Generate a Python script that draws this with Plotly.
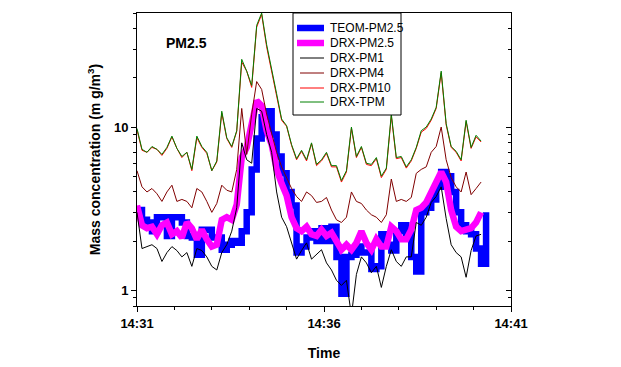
import math
from datetime import datetime, timedelta
import plotly.graph_objects as go

# ---- data ----
start_time = datetime(2000, 1, 1, 14, 31, 0)
step_seconds = 8
series_names = ["TEOM-PM2.5", "DRX-PM2.5", "DRX-PM1", "DRX-PM4", "DRX-PM10", "DRX-TPM"]

teom_pm25 = [3.1, 2.7, 2.6, 2.3, 2.8, 2.8, 2.15, 2.8, 2.8, 2.6,
             2.15, 2.1, 1.65, 2.35, 2.35, 2.1, 2.1, 1.77, 1.9, 2.0,
             1.95, 2.3, 3.0, 5.5, 8.5, 11.5, 12.5, 9.0, 6.6, 5.2,
             4.0, 3.3, 1.7, 1.85, 2.1, 2.3, 2.0, 2.4, 2.0, 2.45,
             1.6, 0.95, 1.6, 1.65, 1.85, 1.7, 1.7, 1.35, 1.4, 2.2,
             1.9, 1.75, 2.3, 2.5, 2.2, 1.6, 1.3, 3.0, 3.2, 3.6,
             4.3, 5.3, 5.0, 4.0, 3.0, 2.5, 2.3, 2.2, 1.8, 1.45, 3.0]

drx_pm25 = [3.3, 2.5, 2.4, 2.45, 2.2, 2.5, 2.6, 2.2, 2.3, 2.1,
            2.6, 2.4, 2.05, 2.35, 2.05, 1.85, 1.9, 2.7, 2.8, 2.7,
            3.35, 6.5, 7.5, 11, 14.5, 13.5, 9.5, 7.8, 5.5, 4.5,
            3.8, 2.8, 2.4, 2.3, 2.45, 2.2, 2.15, 2.35, 2.15, 2.25,
            1.95, 1.77, 1.9, 1.77, 1.95, 2.3, 1.95, 1.77, 2.05, 1.85,
            1.85, 2.45, 2.3, 2.05, 2.05, 2.35, 3.1, 3.2, 3.45, 4.0,
            4.6, 5.3, 4.6, 3.1, 2.45, 2.3, 2.35, 2.4, 2.6, 3.0]

drx_pm1 = [3.0, 1.8, 1.85, 1.9, 1.8, 1.5, 1.7, 1.85, 1.75, 1.6,
           1.7, 1.4, 1.8, 1.75, 1.6, 1.4, 1.33, 1.7, 1.9, 2.3,
           3.2, 8.0, 6.3, 6.0, 13, 12.5, 9.0, 7.0, 4.0, 2.8,
           2.45, 1.95, 1.55, 1.75, 1.95, 1.55, 1.65, 1.77, 1.47, 1.33,
           1.15, 1.07, 1.15, 0.7, 1.25, 1.6, 1.47, 1.28, 1.4, 1.04,
           1.4, 1.77, 1.5, 1.4, 1.6, 1.6, 2.6, 2.5, 2.8, 3.45,
           3.75, 4.3, 2.75, 1.9, 1.7, 1.6, 1.2, 1.75, 2.15, 2.2]

drx_pm4 = [5.4, 4.3, 4.0, 4.2, 3.9, 3.5, 4.0, 4.4, 3.5, 3.6,
           3.5, 3.2, 4.2, 4.0, 3.5, 3.0, 3.4, 4.4, 4.1, 4.0,
           5.5, 13, 6.8, 12, 19, 17, 12, 9.2, 7.0, 5.7,
           4.9, 4.2, 3.75, 3.5, 4.0, 3.8, 3.45, 3.5, 3.7, 3.1,
           2.7, 2.6, 2.8, 4.0, 3.5, 3.4, 3.1, 2.9, 2.8, 2.6,
           2.9, 4.8, 3.5, 3.6, 3.5, 3.7, 5.2, 5.5, 5.7, 7.0,
           7.6, 10, 6.3, 4.9, 4.3, 4.0, 5.3, 3.85, 4.2, 4.6]

drx_pm10 = [9.6, 7.2, 7.0, 7.5, 7.3, 6.7, 7.4, 8.7, 7.4, 6.5,
            7.0, 5.4, 8.6, 7.5, 6.9, 5.4, 6.1, 12.2, 8.5, 7.5,
            9.4, 25, 22, 17.5, 41, 49, 31, 21.5, 15.5, 11.0,
            10.1, 7.7, 6.3, 7.1, 6.2, 7.9, 5.8, 6.2, 6.9, 5.7,
            5.7, 4.6, 5.3, 9.8, 6.5, 7.5, 5.9, 5.8, 6.4, 4.9,
            5.5, 11.7, 6.4, 6.5, 5.6, 6.2, 7.4, 9.3, 9.8, 11.0,
            13.0, 21.5, 10.3, 7.5, 7.0, 6.2, 10.8, 7.4, 8.7, 8.1]

drx_tpm = [9.8, 7.3, 7.0, 7.6, 7.3, 6.8, 7.5, 8.8, 7.4, 6.6,
           7.0, 5.5, 8.8, 7.6, 7.0, 5.4, 6.2, 12.5, 8.6, 7.6,
           9.5, 26, 22, 18, 42, 50, 32, 22, 16, 11.2,
           10.2, 7.8, 6.4, 7.2, 6.3, 8.0, 5.9, 6.3, 7.0, 5.8,
           5.8, 4.7, 5.4, 10, 6.6, 7.6, 6.0, 5.9, 6.5, 5.0,
           5.6, 12, 6.5, 6.6, 5.7, 6.3, 7.5, 9.5, 10.0, 11.2,
           13.2, 22, 10.5, 7.6, 7.1, 6.3, 11, 7.5, 8.9, 8.2]

y_major_ticks = [1, 10]
y_minor_ticks = [0.8, 0.9, 2, 3, 4, 5, 6, 7, 8, 9, 20, 30, 40, 50]
y_min, y_max = 0.8, 50

# ---- styles ----
colors = ["#0000FF", "#FF00FF", "#000000", "#800000", "#FF0000", "#008000"]
widths = [6.5, 6.5, 1, 1, 1, 1]
shapes = ["hv", "linear", "linear", "linear", "linear", "linear"]
series_values = [teom_pm25, drx_pm25, drx_pm1, drx_pm4, drx_pm10, drx_tpm]

def times_for(n):
    return [start_time + timedelta(seconds=step_seconds * i) for i in range(n)]

fig = go.Figure()
for name, vals, c, w, s in zip(series_names, series_values, colors, widths, shapes):
    fig.add_trace(go.Scatter(x=times_for(len(vals)), y=vals, mode="lines", name=name,
                             line=dict(color=c, width=w, shape=s), showlegend=False))

# invisible trace to carry the mirrored right axis
fig.add_trace(go.Scatter(x=[start_time], y=[None], yaxis="y2", showlegend=False,
                         hoverinfo="skip", mode="lines"))

FONT = "Arial, Liberation Sans, sans-serif"
x_end = start_time + timedelta(minutes=10)
yr = [math.log10(y_min), math.log10(y_max)]

# page body adds an 8px offset; figure is sized so the plot area lands at x 137..511, y 13..306
fig.update_layout(
    width=613, height=359,
    margin=dict(l=129, r=110, t=5, b=61, autoexpand=False),
    paper_bgcolor="white", plot_bgcolor="white",
    font=dict(family=FONT, color="black"),
    showlegend=False,
    xaxis=dict(
        type="date", range=[start_time, x_end], automargin=False,
        tick0=start_time, dtick=300000, tickformat="%H:%M",
        ticks="outside", ticklen=5, tickcolor="black", tickwidth=1,
        showline=True, linecolor="black", linewidth=1, mirror=True,
        showgrid=False, zeroline=False,
        tickfont=dict(family=FONT, size=13, weight="bold"),
        minor=dict(dtick=60000, tick0=start_time, ticks="outside", ticklen=3,
                   tickcolor="black", showgrid=False),
        title=dict(text="Time", font=dict(family=FONT, size=14, weight="bold"), standoff=18),
    ),
    yaxis=dict(
        type="log", range=yr, automargin=False,
        tickmode="array", tickvals=y_major_ticks, ticktext=[str(v) for v in y_major_ticks],
        ticks="outside", ticklen=5, tickcolor="black",
        showline=True, linecolor="black", linewidth=1, mirror=False,
        showgrid=False, zeroline=False,
        tickfont=dict(family=FONT, size=13, weight="bold"),
        minor=dict(tickmode="array", tickvals=y_minor_ticks, ticks="outside", ticklen=3,
                   tickcolor="black", showgrid=False),
        title=dict(text="Mass concentration (m g/m<sup>3</sup>)",
                   font=dict(family=FONT, size=14, weight="bold"), standoff=10),
    ),
    yaxis2=dict(
        type="log", range=yr, overlaying="y", side="right", automargin=False,
        tickmode="array", tickvals=y_major_ticks, showticklabels=False,
        ticks="inside", ticklen=5, tickcolor="black",
        showline=True, linecolor="black", linewidth=1,
        showgrid=False, zeroline=False,
        minor=dict(tickmode="array", tickvals=y_minor_ticks, ticks="inside", ticklen=3,
                   tickcolor="black", showgrid=False),
    ),
)

# ---- pixel helpers for decorations (plot area 137..511 x 13..306 on the page) ----
def px(xp):
    return (xp - 137) / 374.0

def py(yp):
    return (306 - yp) / 293.0

fig.add_annotation(x=px(186), y=py(43), xref="paper", yref="paper", text="PM2.5",
                   showarrow=False, xanchor="center", yanchor="middle",
                   font=dict(family=FONT, size=14, weight="bold"))

# ---- legend box ----
fig.add_shape(type="rect", xref="paper", yref="paper", x0=px(293), x1=px(401),
              y0=py(115), y1=py(13), line=dict(color="black", width=1),
              fillcolor="white", layer="above")
row_y = [28, 43, 58, 73, 88, 102]
for name, c, w, yy in zip(series_names, colors, widths, row_y):
    x0 = 297 if w > 2 else 300
    fig.add_shape(type="line", xref="paper", yref="paper", x0=px(x0), x1=px(324),
                  y0=py(yy), y1=py(yy), line=dict(color=c, width=w), layer="above")
    fig.add_annotation(x=px(328), y=py(yy), xref="paper", yref="paper", text=name,
                       showarrow=False, xanchor="left", yanchor="middle",
                       font=dict(family=FONT, size=12, color="black"))

fig.write_html("out.html")
